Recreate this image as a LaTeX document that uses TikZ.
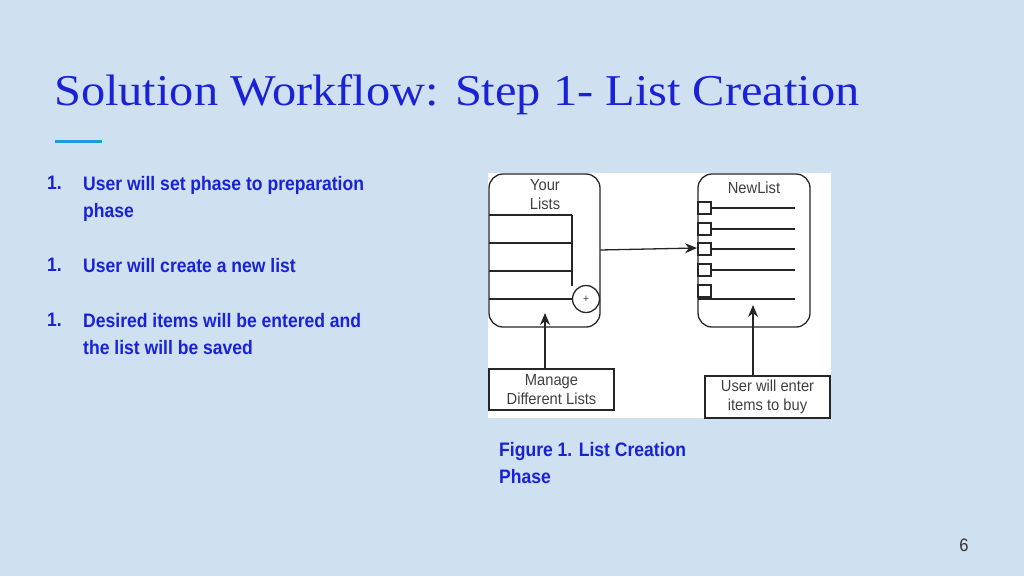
\documentclass[tikz,border=0pt]{standalone}
\usepackage{fontspec}
\setmainfont{Liberation Serif}
\newfontfamily\titlef[FakeStretch=1.1]{Liberation Serif}
\newfontfamily\bodyf[FakeStretch=0.9]{Liberation Sans}
\newfontfamily\figf[FakeStretch=0.92]{Liberation Sans}
\usetikzlibrary{arrows.meta}
\definecolor{bg}{HTML}{CFE0F0}
\definecolor{ttl}{HTML}{1A22D8}
\definecolor{acc}{HTML}{1E9BE0}
\begin{document}
\begin{tikzpicture}[x=1pt,y=-1pt,
  ln/.style={draw=black!85,line width=1.3pt},
  arr/.style={ln,-{Stealth[length=12pt,width=10pt]}},
  txt/.style={font=\bodyf\bfseries\fontsize{19.5}{27}\selectfont,text=ttl,anchor=north west,align=left,inner sep=0},
  fig/.style={font=\figf\fontsize{16}{19}\selectfont,text=black!75,align=center,inner sep=0}]
\fill[bg] (0,0) rectangle (1024,576);
\useasboundingbox (0,0) rectangle (1024,576);
\node[anchor=west,inner sep=0,text=ttl,font=\titlef\fontsize{44}{48}\selectfont] (title) at (54,95) {Solution Workflow: Step 1- List Creation};
\draw[acc,line width=3pt] (55,141) -- (102,141);
\node[txt] (n1) at (47,176) {1.};
\node[txt] (t1) at (83,176) {User will set phase to preparation\\phase};
\node[txt] (n2) at (47,258) {1.};
\node[txt] (t2) at (83,258) {User will create a new list};
\node[txt] (n3) at (47,313) {1.};
\node[txt] (t3) at (83,313) {Desired items will be entered and\\the list will be saved};
\node[txt] (cap) at (499,442) {Figure 1. List Creation\\Phase};
\node[inner sep=0,text=black!80,font=\figf\fontsize{18}{20}\selectfont] (pg) at (964,545) {6};
% figure
\fill[white] (488,173) rectangle (831,418);
\draw[ln,rounded corners=14pt] (489,174) rectangle (600,327);
\node[fig] (yl) at (545,195) {Your\\Lists};
\foreach \y in {215,243,271,299}{\draw[ln] (489,\y) -- (572,\y);}
\draw[ln] (572,215) -- (572,286);
\node[ln,circle,minimum size=27pt,inner sep=0] (plus) at (586,299) {};
\node[fig,font=\figf\fontsize{11}{11}\selectfont] at (plus) {+};
\draw[ln,rounded corners=14pt] (698,174) rectangle (810,327);
\node[fig] (nl) at (754,188) {NewList};
\foreach \y in {202,223,243,264,285}{\draw[ln] (698,\y) rectangle (711,\y+12);}
\foreach \y in {208,229,249,270}{\draw[ln] (711,\y) -- (795,\y);}
\draw[ln] (698,299) -- (795,299);
\coordinate (a1) at (600,250);
\coordinate (a2) at (697,248);
\draw[arr] (a1) -- (a2);
\node[ln,fig,minimum width=125pt,minimum height=41pt] (mg) at (551.5,389.5) {Manage\\Different Lists};
\node[ln,fig,minimum width=125pt,minimum height=42pt] (ue) at (767.5,397) {User will enter\\items to buy};
\coordinate (m2) at (545,313);
\coordinate (u2) at (753,305);
\draw[arr] (mg.north -| m2) -- (m2);
\draw[arr] (ue.north -| u2) -- (u2);
\end{tikzpicture}
\end{document}
